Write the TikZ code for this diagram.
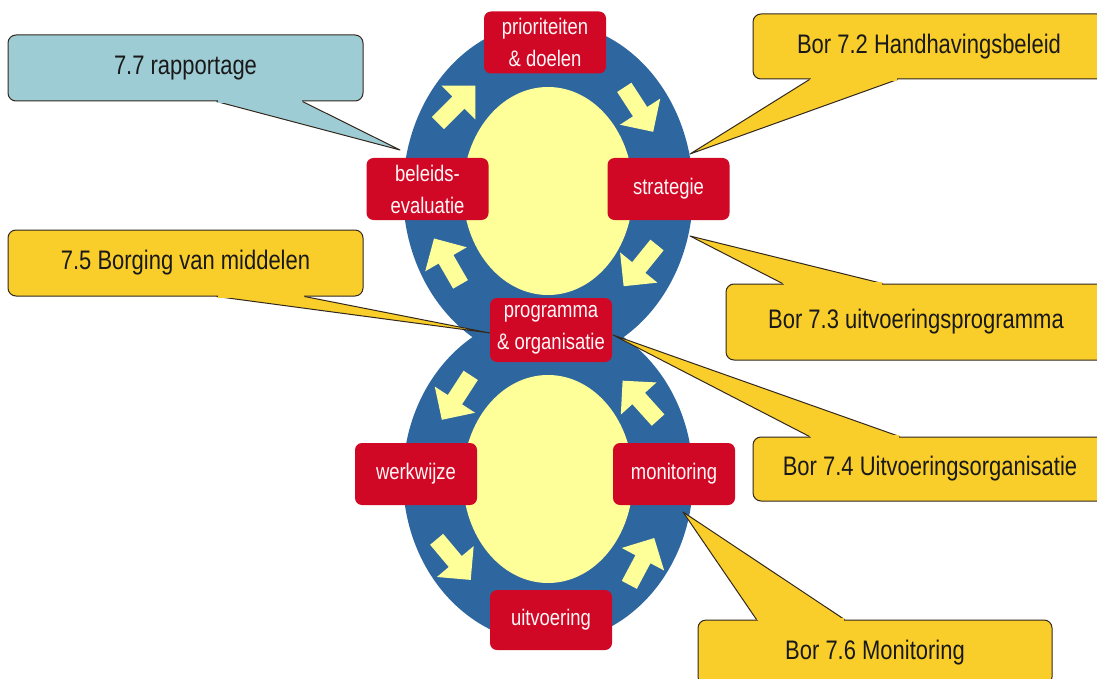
\documentclass[tikz,border=0pt]{standalone}
\usepackage{fontspec}
\setmainfont{Liberation Sans}[FakeStretch=0.82]
\usetikzlibrary{calc}
\definecolor{ringblue}{RGB}{46,103,160}
\definecolor{paleyel}{RGB}{255,255,153}
\definecolor{boxred}{RGB}{208,8,38}
\definecolor{gold}{RGB}{250,206,42}
\definecolor{teal}{RGB}{158,204,212}
\definecolor{edgecol}{RGB}{50,40,30}
\begin{document}
\begin{tikzpicture}[x=1pt,y=-1pt,
  redbox/.style={fill=boxred, text=white!97!red, rounded corners=7pt, minimum width=122pt,
    minimum height=62pt, inner sep=0pt, align=center, font=\fontsize{22.5}{32}\selectfont},
  callbox/.style={draw=edgecol, line width=1pt, rounded corners=8pt, inner sep=0pt,
    font=\fontsize{26.8}{30}\selectfont, text=black!90},
  ptr/.style={draw=edgecol, line width=1pt, line join=round},
  cyc/.pic={\fill[paleyel] (-27,-8.5) -- (2,-8.5) -- (2,-24) -- (26,0) -- (2,24) -- (2,8.5) -- (-27,8.5) -- cycle;}
]
\useasboundingbox (0,0) rectangle (1097,679);
\clip (0,0) rectangle (1097,679);
\fill[white] (0,0) rectangle (1097,679);

% rings
\fill[ringblue] (548,192) ellipse [x radius=145, y radius=170];
\fill[ringblue] (548,478) ellipse [x radius=145, y radius=165];
\fill[paleyel] (548,191) ellipse [x radius=85, y radius=104];
\fill[paleyel] (548,479) ellipse [x radius=85, y radius=104];

% cycle arrows
\pic[rotate=45] at (457,104) {cyc};
\pic[rotate=-57] at (639,110) {cyc};
\pic[rotate=-129] at (640,266) {cyc};
\pic[rotate=120] at (447,261) {cyc};
\pic[rotate=237] at (456,398) {cyc};
\pic[rotate=132] at (640,400) {cyc};
\pic[rotate=-50] at (454,560) {cyc};
\pic[rotate=62] at (642,561) {cyc};

% callouts
\node[callbox, fill=teal, minimum width=355pt, minimum height=66pt] (c77) at (185.5,68) {7.7 rapportage};
\node[callbox, fill=gold, minimum width=352pt, minimum height=65pt] (c72) at (929,46.5) {Bor 7.2 Handhavingsbeleid};
\node[callbox, fill=gold, minimum width=355pt, minimum height=66pt] (c75) at (185.5,263) {7.5 Borging van middelen};
\node[callbox, fill=gold, minimum width=380pt, minimum height=76pt] (c73) at (916,322) {Bor 7.3 uitvoeringsprogramma};
\node[callbox, fill=gold, minimum width=354pt, minimum height=64pt] (c74) at (930,469) {Bor 7.4 Uitvoeringsorganisatie};
\node[callbox, fill=gold, minimum width=354pt, minimum height=65pt] (c76) at (875,652.5) {Bor 7.6 Monitoring};

\coordinate (t77) at (400,150);
\coordinate (t72) at (690,154);
\coordinate (t75) at (490,333);
\coordinate (t73) at (690,236);
\coordinate (t74) at (613,335);
\coordinate (t76) at (683,512);

\coordinate (a77) at ($(c77.south west)+(209,0)$);
\coordinate (b77) at ($(c77.south west)+(295,0)$);
\coordinate (a72) at ($(c72.south west)+(57,0)$);
\coordinate (b72) at ($(c72.south west)+(145,0)$);
\coordinate (a75) at ($(c75.south west)+(209,0)$);
\coordinate (b75) at ($(c75.south west)+(297,0)$);
\coordinate (a73) at ($(c73.north west)+(57,0)$);
\coordinate (b73) at ($(c73.north west)+(157,0)$);
\coordinate (a74) at ($(c74.north west)+(57,0)$);
\coordinate (b74) at ($(c74.north west)+(147,0)$);
\coordinate (a76) at ($(c76.north west)+(59,0)$);
\coordinate (b76) at ($(c76.north west)+(147,0)$);

\filldraw[ptr, fill=teal] (a77) -- (t77) -- (b77);
\fill[teal] ($(a77)+(1,-1.6)$) rectangle ($(b77)+(-1,1.6)$);
\filldraw[ptr, fill=gold] (a72) -- (t72) -- (b72);
\fill[gold] ($(a72)+(1,-1.6)$) rectangle ($(b72)+(-1,1.6)$);
\filldraw[ptr, fill=gold] (a75) -- (t75) -- (b75);
\fill[gold] ($(a75)+(1,-1.6)$) rectangle ($(b75)+(-1,1.6)$);
\filldraw[ptr, fill=gold] (a73) -- (t73) -- (b73);
\fill[gold] ($(a73)+(1,-1.6)$) rectangle ($(b73)+(-1,1.6)$);
\filldraw[ptr, fill=gold] (a74) -- (t74) -- (b74);
\fill[gold] ($(a74)+(1,-1.6)$) rectangle ($(b74)+(-1,1.6)$);
\filldraw[ptr, fill=gold] (a76) -- (t76) -- (b76);
\fill[gold] ($(a76)+(1,-1.6)$) rectangle ($(b76)+(-1,1.6)$);

% red step boxes
\node[redbox] (pd) at (545,42.5) {prioriteiten\\\& doelen};
\node[redbox] (be) at (427.5,189) {beleids-\\evaluatie};
\node[redbox] (st) at (668.5,189) {strategie};
\node[redbox, minimum height=64pt] (po) at (551,330) {programma\\\& organisatie};
\node[redbox] (ww) at (416,474) {werkwijze};
\node[redbox] (mo) at (674,474) {monitoring};
\node[redbox, minimum height=60pt] (ui) at (551,620) {uitvoering};
\end{tikzpicture}
\end{document}
